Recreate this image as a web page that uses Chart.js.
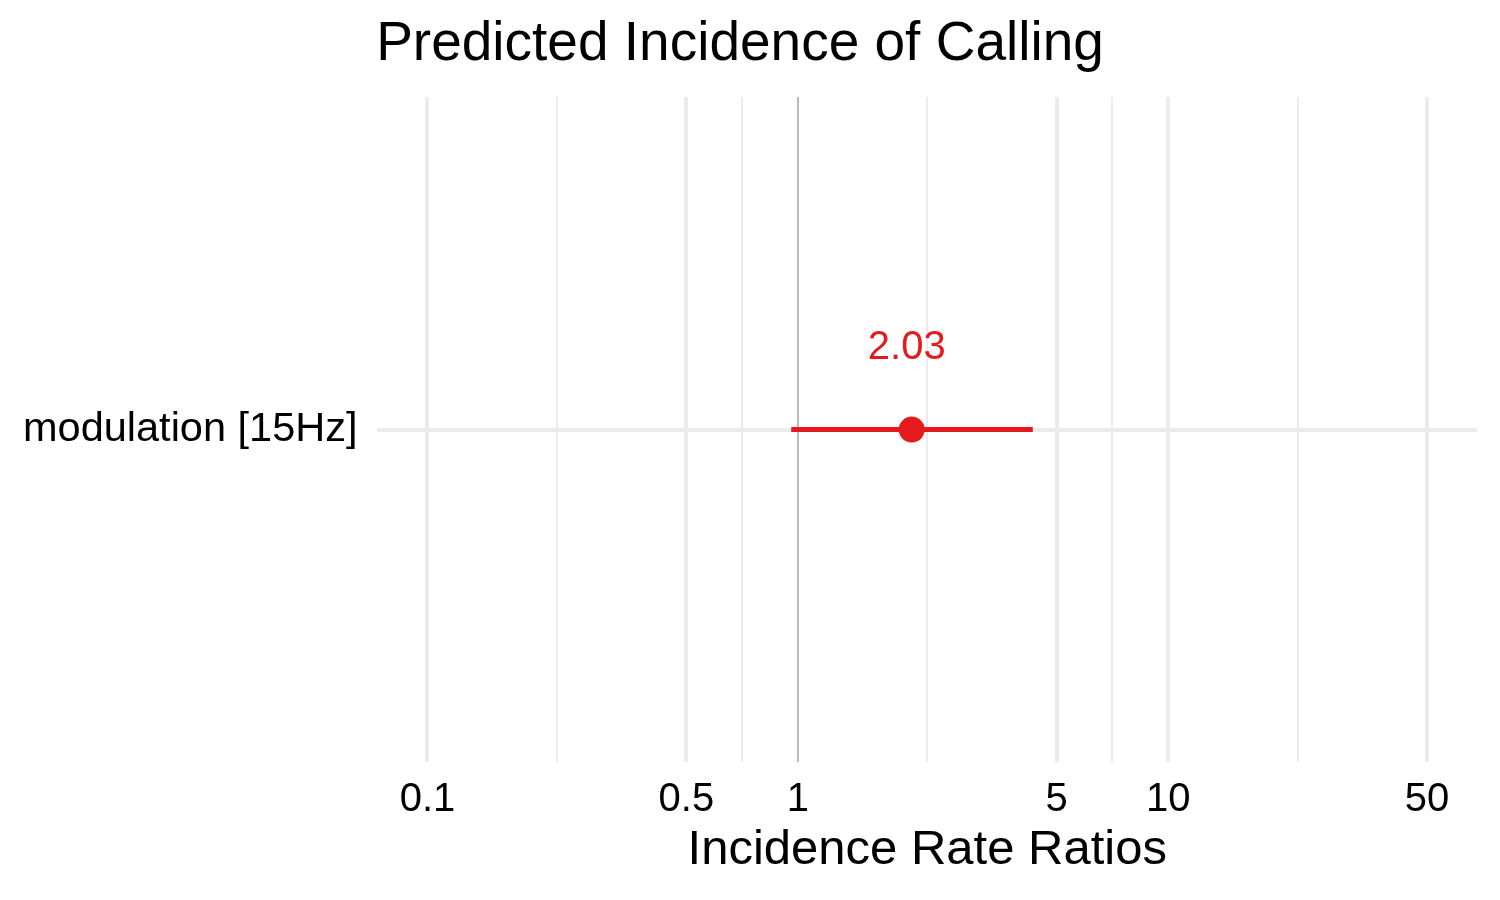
<!DOCTYPE html>
<html>
<head>
<meta charset="utf-8">
<script src="https://cdn.jsdelivr.net/npm/chart.js@4/dist/chart.umd.min.js"></script>
<style>
  body { margin: 0; background: #fff; }
  canvas { display: block; }
</style>
</head>
<body>
<canvas id="forest" width="1500" height="900"></canvas>
<script>
// data
const terms = ["modulation [15Hz]"];
const estimates = [2.03];
const ciLow = [0.96];
const ciHigh = [4.31];
const estLabels = ["2.03"];
const tickValues = [0.1, 0.5, 1, 5, 10, 50];
const tickLabels = ["0.1", "0.5", "1", "5", "10", "50"];

const red = "#e41a1c";
const font = "'Liberation Sans', Arial, sans-serif";

// minor grid sits halfway between breaks (log space), like ggplot
const minorValues = [];
for (let i = 0; i < tickValues.length - 1; i++) {
  minorValues.push(Math.sqrt(tickValues[i] * tickValues[i + 1]));
}
// 5% expansion of the break range in log space
const lo = Math.log10(tickValues[0]), hi = Math.log10(tickValues[tickValues.length - 1]);
const pad = (hi - lo) * 0.05;
const xMin = Math.pow(10, lo - pad), xMax = Math.pow(10, hi + pad);

const isMajor = (v) => tickValues.some(t => Math.abs(t - v) < 1e-9);

// text above each estimate
const estLabelPlugin = {
  id: "estLabel",
  afterDatasetsDraw(chart) {
    const ctx = chart.ctx;
    const xs = chart.scales.x, ys = chart.scales.y;
    ctx.save();
    ctx.fillStyle = red;
    ctx.font = "40px " + font;
    ctx.textAlign = "center";
    ctx.textBaseline = "middle";
    for (let i = 0; i < terms.length; i++) {
      ctx.fillText(estLabels[i], xs.getPixelForValue(estimates[i]) - 5, ys.getPixelForValue(terms[i]) - 82);
    }
    ctx.restore();
  }
};

new Chart(document.getElementById("forest"), {
  type: "scatter",
  plugins: [estLabelPlugin],
  data: {
    datasets: [
      // confidence intervals
      ...terms.map((t, i) => ({
        type: "line",
        data: [{ x: ciLow[i], y: t }, { x: ciHigh[i], y: t }],
        borderColor: red,
        borderWidth: 5,
        pointRadius: 0,
        borderCapStyle: "butt",
      })),
      {
        data: terms.map((t, i) => ({ x: estimates[i], y: t })),
        backgroundColor: red,
        borderColor: red,
        borderWidth: 0,
        pointRadius: 13,
      },
    ],
  },
  options: {
    responsive: false,
    animation: false,
    events: [],
    layout: { padding: { left: 3, right: 23, top: 0, bottom: 20 } },
    plugins: {
      legend: { display: false },
      tooltip: { enabled: false },
      title: {
        display: true,
        text: "Predicted Incidence of Calling",
        color: "#000",
        font: { family: font, size: 55, weight: "normal" },
        padding: { top: 12, bottom: 19 },
      },
    },
    scales: {
      x: {
        type: "logarithmic",
        min: xMin,
        max: xMax,
        afterBuildTicks(scale) {
          scale.ticks = tickValues.concat(minorValues).sort((a, b) => a - b).map(v => ({ value: v }));
        },
        border: { display: false },
        grid: {
          drawTicks: false,
          color: (c) => (c.tick && c.tick.value === 1 ? "#b8b8b8" : "#ebebeb"),
          lineWidth: (c) => {
            if (!c.tick) return 0;
            if (c.tick.value === 1) return 2;
            return isMajor(c.tick.value) ? 4 : 2;
          },
        },
        ticks: {
          autoSkip: false,
          maxRotation: 0,
          padding: 14,
          color: "#000",
          font: { family: font, size: 40 },
          callback: (v) => {
            const k = tickValues.findIndex(t => Math.abs(t - v) < 1e-9);
            return k >= 0 ? tickLabels[k] : "";
          },
        },
        title: {
          display: true,
          text: "Incidence Rate Ratios",
          color: "#000",
          font: { family: font, size: 49 },
          padding: { top: -17, bottom: 0 },
        },
      },
      y: {
        type: "category",
        labels: terms,
        offset: true,
        border: { display: false },
        grid: { offset: false, drawTicks: false, color: "#ebebeb", lineWidth: 4 },
        ticks: {
          padding: 20,
          color: "#000",
          font: { family: font, size: 41.5 },
        },
      },
    },
  },
});
</script>
</body>
</html>
